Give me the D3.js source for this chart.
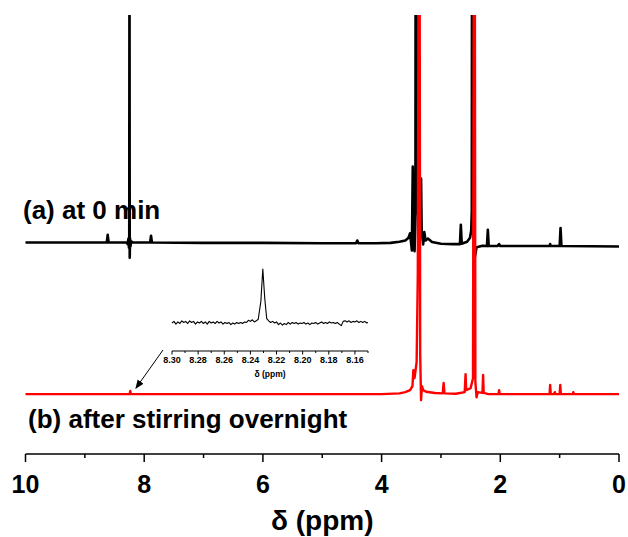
<!DOCTYPE html>
<html>
<head>
<meta charset="utf-8">
<script src="https://cdn.jsdelivr.net/npm/d3@7/dist/d3.min.js"></script>
<style>
  html, body { margin: 0; padding: 0; background: #fff; }
  svg { display: block; font-family: "Liberation Sans", Arial, sans-serif; }
</style>
</head>
<body>
<svg id="chart" width="628" height="537"></svg>
<script>
// 1H NMR spectra: [chemical shift (ppm), intensity (a.u.)]
const spectrumInitial = [
  [10.00, 0.0], [9.00, 0.0], [8.63, 0.0], [8.615, 1.9], [8.60, 0.0], [8.30, 0.0],
  [8.28, -0.4], [8.265, 1.0], [8.257, -1.3], [8.252, 1.4], [8.248, 80], [8.244, -3.8],
  [8.238, 1.0], [8.232, -1.0], [8.22, 0.3], [8.20, 0.0], [7.90, 0.0], [7.885, 1.7],
  [7.87, 0.0], [7.00, -0.1], [6.00, -0.1], [5.00, -0.2], [4.43, -0.2], [4.41, 0.5],
  [4.39, -0.2], [4.10, -0.2], [3.85, -0.1], [3.70, 0.2], [3.60, 0.5], [3.55, 1.1],
  [3.52, 2.3], [3.49, -2.0], [3.475, 19], [3.46, 3.0], [3.445, -2.2], [3.43, 6.0],
  [3.425, 120], [3.41, 120], [3.40, 10], [3.37, 4.0], [3.335, 16], [3.325, 3.0],
  [3.30, -0.5], [3.28, 2.6], [3.26, 0.5], [3.22, 1.0], [3.15, 0.1], [3.00, -0.3],
  [2.80, -0.4], [2.68, -0.4], [2.665, 4.4], [2.65, -0.3], [2.56, 0.2], [2.51, 1.2],
  [2.49, 3.0], [2.48, 8.0], [2.475, 120], [2.465, 120], [2.455, 2.0], [2.43, -3.8],
  [2.40, -1.2], [2.30, -0.8], [2.225, -0.9], [2.21, 3.2], [2.195, -0.9], [2.05, -0.9],
  [2.02, -0.4], [2.00, -0.9], [1.60, -0.9], [1.17, -0.9], [1.16, -0.4], [1.15, -0.9],
  [1.00, -0.9], [0.985, 3.6], [0.97, -0.9], [0.00, -1.0]
];

const spectrumOvernight = [
  [10.00, 0.0], [9.00, 0.0], [8.60, 0.0], [8.245, 0.0], [8.235, 0.8], [8.225, 0.0],
  [7.00, 0.0], [4.00, 0.0], [3.70, 0.2], [3.60, 0.5], [3.52, 1.0], [3.48, 2.0],
  [3.465, 6.0], [3.445, 4.0], [3.41, 8.0], [3.39, 30], [3.375, 120], [3.367, 30],
  [3.36, 120], [3.35, 10], [3.335, -1.5], [3.32, 2.0], [3.30, 1.0], [3.25, 0.6],
  [3.10, 0.3], [2.97, 0.2], [2.955, 2.8], [2.94, 0.2], [2.75, 0.1], [2.60, 0.5],
  [2.585, 5.0], [2.575, 1.0], [2.50, 1.5], [2.46, 4.0], [2.445, 120], [2.43, 120],
  [2.42, 3.0], [2.40, -0.8], [2.38, 0.5], [2.30, 0.3], [2.29, 4.8], [2.28, 0.3],
  [2.20, 0.0], [2.03, 0.0], [2.02, 1.0], [2.01, 0.0], [1.50, 0.0], [1.17, 0.0],
  [1.16, 2.3], [1.15, 0.0], [1.10, 0.0], [1.08, 0.5], [1.07, 0.0], [1.00, 0.0],
  [0.99, 2.3], [0.98, 0.0], [0.78, 0.0], [0.77, 0.5], [0.76, 0.0], [0.00, 0.0]
];

// Expanded region around the 8.23 ppm singlet (overnight sample)
const insetSpectrum = [
  [8.3000, 0], [8.2985, 3], [8.2970, -2], [8.2955, 2], [8.2940, -1], [8.2925, 4],
  [8.2910, 1], [8.2895, 3], [8.2880, -1], [8.2865, 4], [8.2850, 1], [8.2835, 3],
  [8.2820, -2], [8.2805, 2], [8.2790, 0], [8.2775, 3], [8.2760, -1], [8.2745, 2],
  [8.2730, -2], [8.2715, 3], [8.2700, 0], [8.2685, 2], [8.2670, -1], [8.2655, 3],
  [8.2640, 0], [8.2625, 2], [8.2610, -2], [8.2595, 1], [8.2580, -1], [8.2565, 1],
  [8.2550, -3], [8.2535, 0], [8.2520, -2], [8.2505, 1], [8.2490, -1], [8.2475, 1],
  [8.2460, -1], [8.2445, 2], [8.2430, 1], [8.2415, 5], [8.2400, 3], [8.2385, 6],
  [8.2370, 2], [8.2355, 4], [8.2340, 7], [8.2320, 40], [8.2305, 100], [8.2290, 45],
  [8.2275, 8], [8.2260, 4], [8.2245, 1], [8.2230, 3], [8.2215, 0], [8.2200, 2],
  [8.2185, -3], [8.2170, 0], [8.2155, -4], [8.2140, -1], [8.2125, -3], [8.2110, 1],
  [8.2095, -2], [8.2080, 1], [8.2065, -1], [8.2050, 1], [8.2035, -2], [8.2020, 0],
  [8.2005, -1], [8.1990, 1], [8.1975, -2], [8.1960, 0], [8.1945, -3], [8.1930, 0],
  [8.1915, -1], [8.1900, 1], [8.1885, -2], [8.1870, 0], [8.1855, 2], [8.1840, -1],
  [8.1825, 1], [8.1810, -1], [8.1795, 2], [8.1780, 0], [8.1765, 1], [8.1750, -1],
  [8.1735, 1], [8.1720, -2], [8.1705, -5], [8.1690, 3], [8.1675, 4], [8.1660, 2],
  [8.1645, 4], [8.1630, 1], [8.1615, 3], [8.1600, 2], [8.1585, 4], [8.1570, 1],
  [8.1555, 3], [8.1540, 1], [8.1525, 3], [8.1510, 0], [8.1500, 1]
];

const xTickMajor = [10, 8, 6, 4, 2, 0];
const xTickAll = [10, 9, 8, 7, 6, 5, 4, 3, 2, 1, 0];
const insetTickMajor = [8.30, 8.28, 8.26, 8.24, 8.22, 8.20, 8.18, 8.16];
const insetTickAll = [8.30, 8.29, 8.28, 8.27, 8.26, 8.25, 8.24, 8.23, 8.22, 8.21, 8.20, 8.19, 8.18, 8.17, 8.16, 8.15];

const labelInitial = "(a) at 0 min";
const labelOvernight = "(b) after stirring overnight";
const axisTitle = "\u03b4 (ppm)";

// Vertical stacking of the two traces
const offsetInitial = 43;
const offsetOvernight = 5;

const svg = d3.select("#chart");

const plot = { left: 25.5, right: 619, top: 15, bottom: 454 };
const x = d3.scaleLinear().domain([10, 0]).range([plot.left, plot.right]);
const y = d3.scaleLinear().domain([-10, 100]).range([plot.bottom, plot.top]);

svg.append("defs").append("clipPath").attr("id", "plot-clip")
  .append("rect")
  .attr("x", plot.left - 2).attr("y", plot.top)
  .attr("width", plot.right - plot.left + 4).attr("height", plot.bottom - plot.top);

const traces = svg.append("g").attr("clip-path", "url(#plot-clip)");

function traceLine(offset) {
  return d3.line().x(d => x(d[0])).y(d => y(d[1] + offset));
}

traces.append("path")
  .datum(spectrumInitial)
  .attr("d", traceLine(offsetInitial))
  .attr("fill", "none")
  .attr("stroke", "#000")
  .attr("stroke-width", 2.6)
  .attr("stroke-linejoin", "round");

traces.append("path")
  .datum(spectrumOvernight)
  .attr("d", traceLine(offsetOvernight))
  .attr("fill", "none")
  .attr("stroke", "#ff0000")
  .attr("stroke-width", 2.4)
  .attr("stroke-linejoin", "round");

// Main x axis (ticks point down)
const xAxis = svg.append("g").attr("transform", `translate(0,${plot.bottom})`);
xAxis.append("line")
  .attr("x1", plot.left).attr("x2", plot.right)
  .attr("stroke", "#000").attr("stroke-width", 1.5);
xAxis.selectAll("line.tick")
  .data(xTickAll)
  .join("line")
  .attr("class", "tick")
  .attr("x1", d => x(d)).attr("x2", d => x(d))
  .attr("y1", 0).attr("y2", d => xTickMajor.includes(d) ? 8 : 4)
  .attr("stroke", "#000").attr("stroke-width", 1.5);
xAxis.selectAll("text")
  .data(xTickMajor)
  .join("text")
  .attr("x", d => x(d))
  .attr("y", 39)
  .attr("text-anchor", "middle")
  .attr("font-size", 25)
  .attr("font-weight", "bold")
  .text(d => d);

svg.append("text")
  .attr("x", (plot.left + plot.right) / 2)
  .attr("y", 530)
  .attr("text-anchor", "middle")
  .attr("font-size", 28)
  .attr("font-weight", "bold")
  .text(axisTitle);

// Trace labels
svg.append("text")
  .attr("x", 23).attr("y", 219)
  .attr("font-size", 26).attr("font-weight", "bold")
  .text(labelInitial);
svg.append("text")
  .attr("x", 28).attr("y", 428)
  .attr("font-size", 26).attr("font-weight", "bold")
  .text(labelOvernight);

// Inset: expansion of the 8.23 ppm region
const inset = { left: 172, right: 368, base: 323, top: 269, axis: 351 };
const xi = d3.scaleLinear().domain([8.30, 8.15]).range([inset.left, inset.right]);
const yi = d3.scaleLinear().domain([0, 100]).range([inset.base, inset.top]);

svg.append("path")
  .datum(insetSpectrum)
  .attr("d", d3.line().x(d => xi(d[0])).y(d => yi(d[1])))
  .attr("fill", "none")
  .attr("stroke", "#000")
  .attr("stroke-width", 1.1)
  .attr("stroke-linejoin", "round");

const iAxis = svg.append("g").attr("transform", `translate(0,${inset.axis})`);
iAxis.append("line")
  .attr("x1", inset.left).attr("x2", inset.right)
  .attr("stroke", "#000").attr("stroke-width", 1);
iAxis.selectAll("line.tick")
  .data(insetTickAll)
  .join("line")
  .attr("class", "tick")
  .attr("x1", d => xi(d)).attr("x2", d => xi(d))
  .attr("y1", 0)
  .attr("y2", d => insetTickMajor.some(m => Math.abs(m - d) < 1e-9) ? 3.5 : 2)
  .attr("stroke", "#000").attr("stroke-width", 1);
iAxis.selectAll("text")
  .data(insetTickMajor)
  .join("text")
  .attr("x", d => xi(d))
  .attr("y", 12)
  .attr("text-anchor", "middle")
  .attr("font-size", 9)
  .attr("font-weight", "bold")
  .text(d => d.toFixed(2));
svg.append("text")
  .attr("x", (inset.left + inset.right) / 2)
  .attr("y", 377)
  .attr("text-anchor", "middle")
  .attr("font-size", 8.5)
  .attr("font-weight", "bold")
  .text(axisTitle);

// Arrow from the inset to the small peak in trace (b)
svg.append("defs").append("marker")
  .attr("id", "arrowhead")
  .attr("viewBox", "0 0 10 10")
  .attr("refX", 9).attr("refY", 5)
  .attr("markerWidth", 9).attr("markerHeight", 9)
  .attr("markerUnits", "userSpaceOnUse")
  .attr("orient", "auto")
  .append("path")
  .attr("d", "M0,1 L10,5 L0,9 Z")
  .attr("fill", "#000");

svg.append("line")
  .attr("x1", inset.left - 9).attr("y1", inset.axis - 1)
  .attr("x2", x(8.14)).attr("y2", y(offsetOvernight + 1.5))
  .attr("stroke", "#000").attr("stroke-width", 1)
  .attr("marker-end", "url(#arrowhead)");
</script>
</body>
</html>
